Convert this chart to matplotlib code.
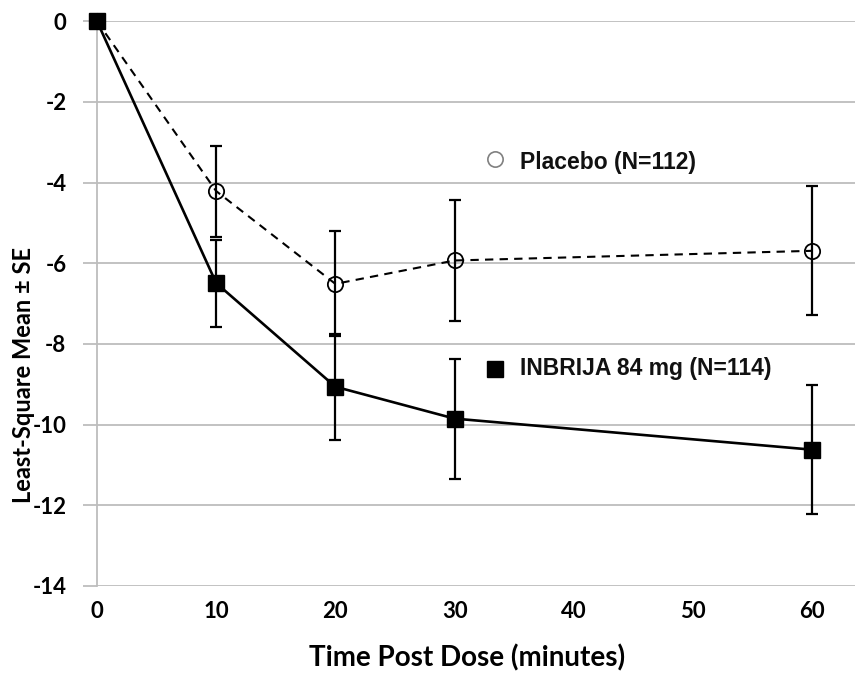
import matplotlib.pyplot as plt
import numpy as np

time = [0, 10, 20, 30, 60]
placebo = [0, -4.21, -6.51, -5.93, -5.69]
placebo_se = [0, 1.13, 1.30, 1.50, 1.60]
inbrija = [0, -6.49, -9.06, -9.85, -10.62]
inbrija_se = [0, 1.08, 1.31, 1.49, 1.60]

xticks = [0, 10, 20, 30, 40, 50, 60]
yticks = [0, -2, -4, -6, -8, -10, -12, -14]

fig = plt.figure(figsize=(8.62, 6.77), dpi=100)
ax = fig.add_axes([97 / 862, 91 / 677, 758 / 862, 564.7 / 677])

grid_col = "#bdbdbd"
for y in yticks:
    ax.axhline(y, color=grid_col, lw=1.3, zorder=0)

ax.errorbar(time[1:], placebo[1:], yerr=placebo_se[1:], fmt="none",
            ecolor="black", elinewidth=1.6, capsize=4, capthick=1.6, zorder=3)
ax.errorbar(time[1:], inbrija[1:], yerr=inbrija_se[1:], fmt="none",
            ecolor="black", elinewidth=1.6, capsize=4, capthick=1.6, zorder=3)

ax.plot(time, placebo, color="black", lw=1.5, ls=(0, (4, 3)),
        marker="o", markersize=11, markerfacecolor="none",
        markeredgecolor="black", markeredgewidth=1.3, zorder=4, clip_on=False)
ax.plot(time, inbrija, color="black", lw=1.9, marker="s", markersize=11,
        markerfacecolor="black", markeredgecolor="black", zorder=5, clip_on=False)

# in-plot labels instead of a legend box
ax.plot([33.4], [-3.41], marker="o", markersize=11, markerfacecolor="none",
        markeredgecolor="#808080", markeredgewidth=1.2, ls="none")
ax.text(35.5, -3.5, "Placebo (N=112)", fontsize=16.5, fontweight="bold",
        family="Liberation Sans", va="center", ha="left", color="#111111")
ax.plot([33.4], [-8.61], marker="s", markersize=12, color="black", ls="none")
ax.text(35.5, -8.61, "INBRIJA 84 mg (N=114)", fontsize=16.5, fontweight="bold",
        family="Liberation Sans", va="center", ha="left", color="#111111")

ax.set_xlim(0, 63.6)
ax.set_ylim(-14, 0)
ax.set_xticks(xticks)
ax.set_yticks(yticks)
ax.set_xticklabels([str(v) for v in xticks], fontsize=16, fontweight="bold",
                   family="Lato")
ax.set_yticklabels([str(v) for v in yticks], fontsize=16, fontweight="bold",
                   family="Lato")
ax.tick_params(axis="x", length=0, pad=11)
ax.tick_params(axis="y", length=10, width=1.3, color=grid_col, pad=12)

for s in ["top", "right", "bottom"]:
    ax.spines[s].set_visible(False)
ax.spines["left"].set_color(grid_col)
ax.spines["left"].set_linewidth(1.3)

ax.set_xlabel("Time Post Dose (minutes)", fontsize=20, fontweight="bold",
              family="Lato")
ax.xaxis.set_label_coords(0.488, -0.103)
ax.set_ylabel("Least-Square Mean \u00b1 SE", fontsize=17, fontweight="bold",
              family="Lato")
ax.yaxis.set_label_coords(-0.082, 0.374)

fig.savefig("out.png", dpi=100)
